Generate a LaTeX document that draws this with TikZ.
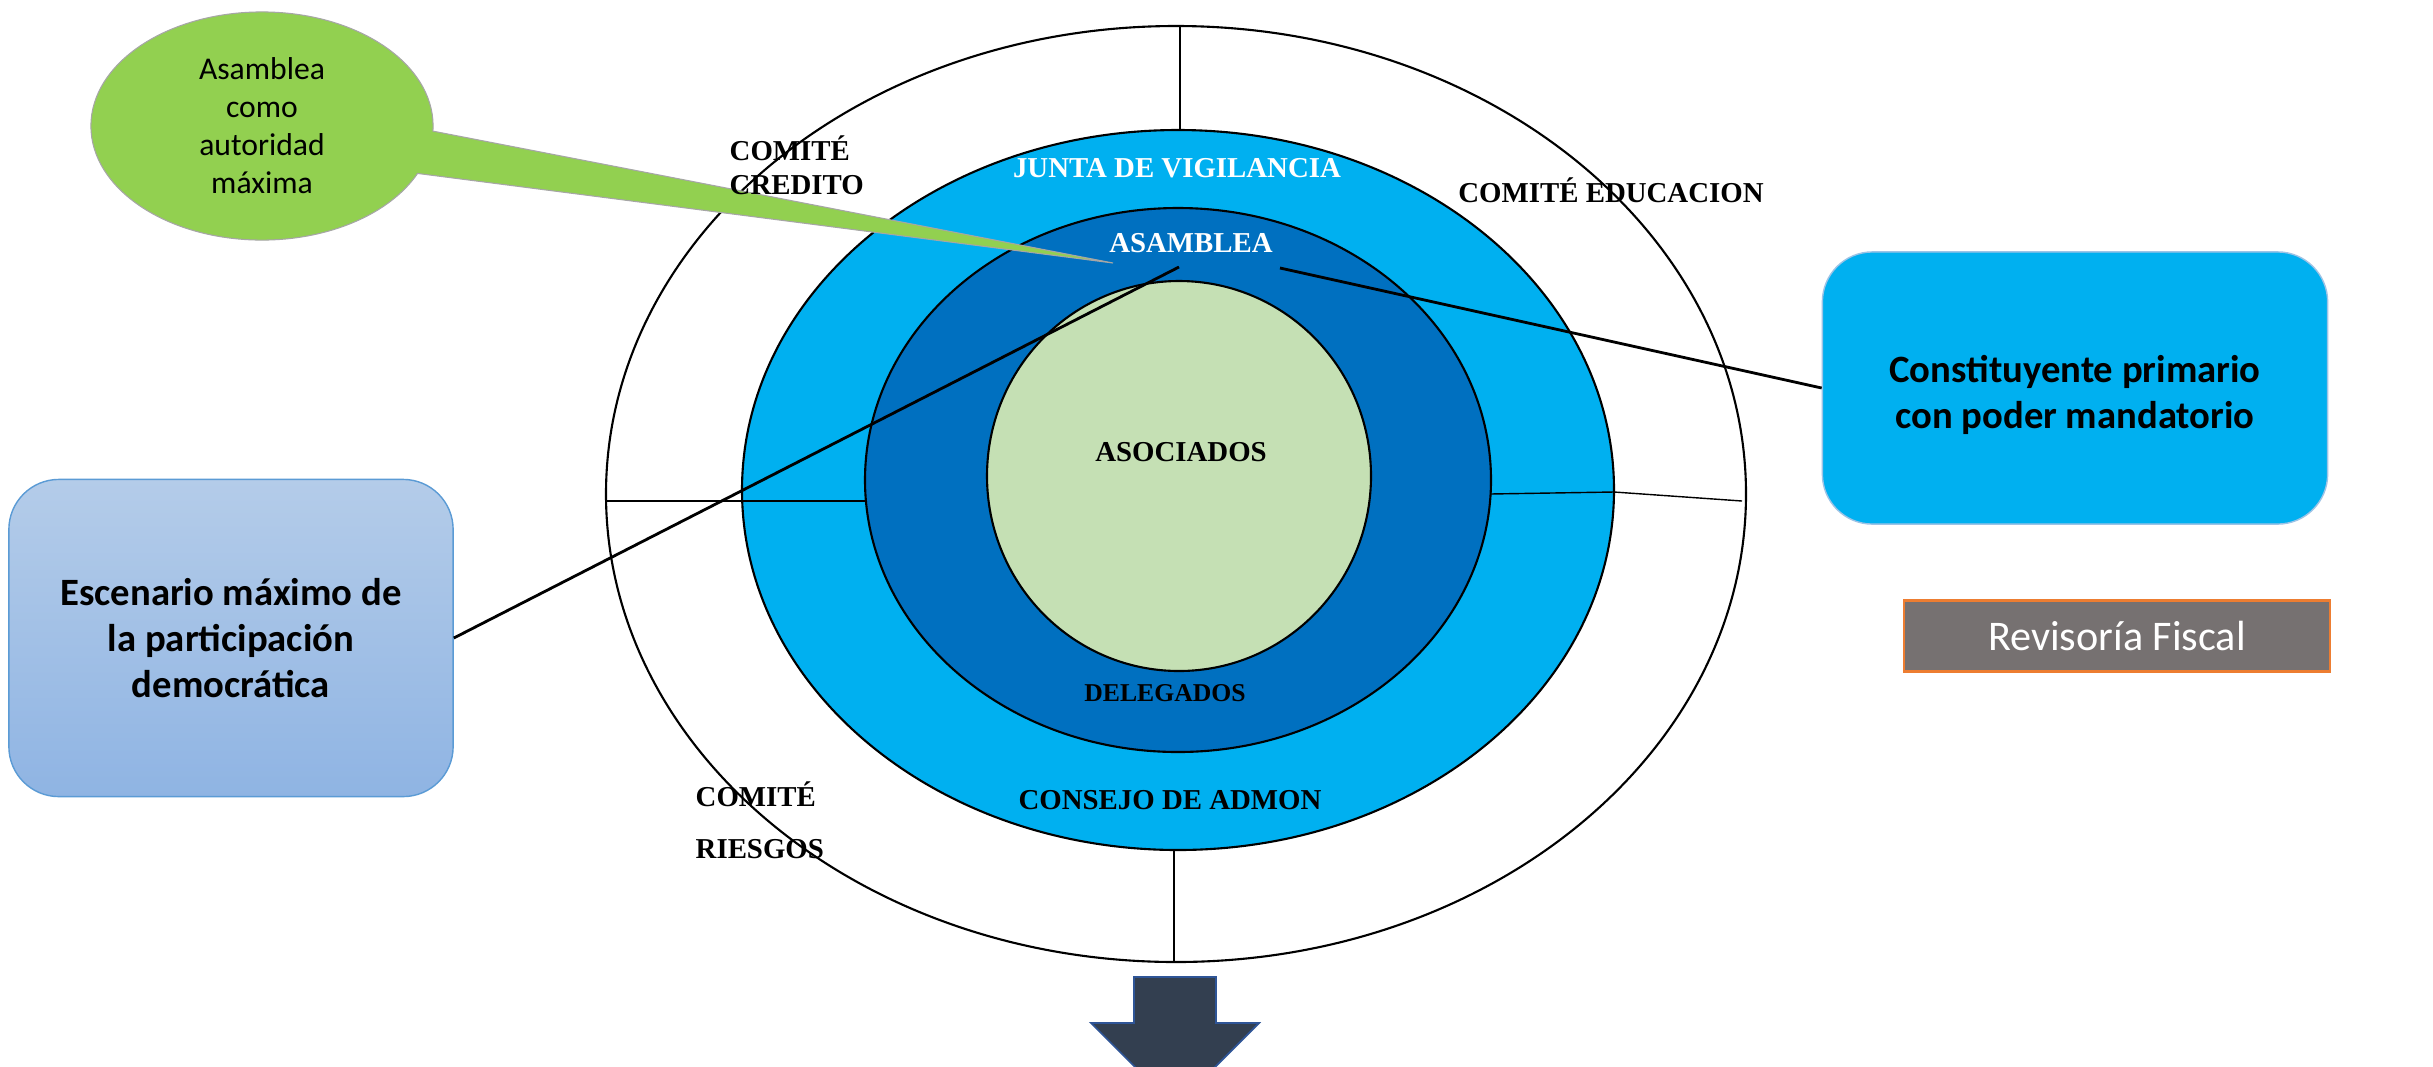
\documentclass[tikz,border=0pt]{standalone}
\usepackage{fontspec}
\setmainfont{Liberation Serif}
\newfontfamily\calibri{Carlito}
\usetikzlibrary{shapes.geometric,shapes.callouts}

\definecolor{ringcyan}{HTML}{00B0F0}
\definecolor{ringblue}{HTML}{0070C0}
\definecolor{coregreen}{HTML}{C5E0B4}
\definecolor{calloutgreen}{HTML}{92D050}
\definecolor{fiscalgray}{HTML}{767171}
\definecolor{fiscalorange}{HTML}{ED7D31}
\definecolor{boxedge}{HTML}{5B9BD5}
\definecolor{arrowslate}{HTML}{333F50}
\definecolor{arrowedge}{HTML}{2F5597}

\tikzset{
  ringlabel/.style={font=\fontsize{8.2}{9.7}\selectfont\bfseries, inner sep=0pt},
  ringline/.style={line width=0.6pt},
  divider/.style={line width=0.4pt},
  infobox/.style={rounded corners=0.5cm, align=center, inner sep=0pt,
    font=\calibri\bfseries\fontsize{11}{13.2}\selectfont},
  connector/.style={line width=0.8pt}
}

\begin{document}
\begin{tikzpicture}[x=0.01cm, y=-0.01cm]

  \useasboundingbox (0,0) rectangle (2433,1066);
  \clip (0,0) rectangle (2433,1066);
  \fill[white] (0,0) rectangle (2433,1066);

  % Committees ring
  \draw[ringline] (1176,494) ellipse [x radius=570, y radius=468];

  % Junta / Consejo ring
  \draw[ringline, fill=ringcyan] (1178,490) ellipse [x radius=436, y radius=360];

  % Dividers between the committees
  \draw[divider] (1180,26) -- (1180,130);
  \draw[divider] (1174,850) -- (1174,962);
  \draw[divider] (606,501) -- (867,501);
  \draw[divider] (1490,494) -- (1614,492) -- (1742,501);

  % Asamblea / Delegados ring
  \draw[ringline, fill=ringblue] (1178,480) ellipse [x radius=313, y radius=272];

  % Asociados core
  \draw[ringline, fill=coregreen] (1179,476) ellipse [x radius=192, y radius=195];

  % Callout
  \coordinate (asambleaTip) at (1113,263);
  \node[ellipse callout, fill=calloutgreen, draw=gray!70, line width=0.3pt,
    minimum width=3.42cm, minimum height=2.28cm, inner sep=0pt,
    callout absolute pointer={(asambleaTip)}, callout pointer arc=22,
    align=center, font=\calibri\fontsize{9}{10.8}\selectfont]
    (autoridad) at (262,126) {Asamblea\\como\\autoridad\\máxima};

  % Ring labels
  \node[ringlabel, text=white] (junta) at (1177,168) {JUNTA DE VIGILANCIA};
  \node[ringlabel, text=white] (asamblea) at (1191,243) {ASAMBLEA};
  \node[ringlabel] (asociados) at (1181,452) {ASOCIADOS};
  \node[ringlabel, font=\fontsize{7.3}{9}\selectfont\bfseries] (delegados) at (1165,693) {DELEGADOS};
  \node[ringlabel] (consejo) at (1170,800) {CONSEJO DE ADMON};
  \node[ringlabel] (educacion) at (1611,190) {COMITÉ EDUCACION};
  \node[ringlabel, align=left, anchor=west] (credito) at (729,165) {COMITÉ\\CREDITO};
  \node[ringlabel, align=left, anchor=west, font=\fontsize{8.2}{14.8}\selectfont\bfseries]
    (riesgos) at (695,820) {COMITÉ\\RIESGOS};

  % Side boxes
  \node[infobox, draw=boxedge, line width=0.4pt,
    top color={rgb,255:red,180;green,204;blue,233},
    bottom color={rgb,255:red,143;green,180;blue,227},
    minimum width=4.44cm, minimum height=3.17cm]
    (escenario) at (231,638) {Escenario máximo de\\la participación\\democrática};
  \node[infobox, fill=ringcyan, draw=boxedge!60, line width=0.4pt,
    minimum width=5.05cm, minimum height=2.72cm, text height=25pt]
    (constituyente) at (2075,388) {Constituyente primario\\con poder mandatorio};
  \node[draw=fiscalorange, fill=fiscalgray, line width=0.6pt, text=white,
    minimum width=4.26cm, minimum height=0.71cm, inner sep=0pt,
    font=\calibri\fontsize{12}{14}\selectfont]
    (fiscal) at (2117,636) {Revisoría Fiscal};

  % Connectors to the Asamblea
  \coordinate (asambleaL) at (1179,267);
  \coordinate (asambleaR) at (1280,268);
  \draw[connector] (escenario.east) -- (asambleaL);
  \draw[connector] (asambleaR) -- (constituyente.west);

  % Down arrow
  \draw[fill=arrowslate, draw=arrowedge, line width=0.5pt]
    (1134,977) -- (1216,977) -- (1216,1023) -- (1259,1023) -- (1175,1107)
    -- (1091,1023) -- (1134,1023) -- cycle;

\end{tikzpicture}
\end{document}
